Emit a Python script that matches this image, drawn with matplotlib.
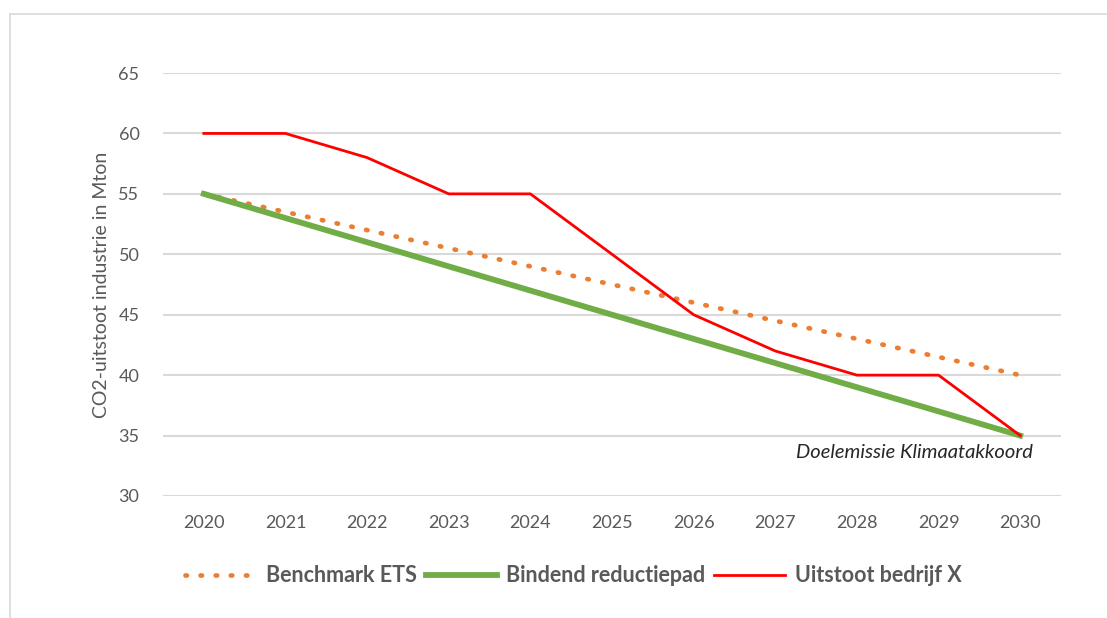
import matplotlib
matplotlib.use('Agg')
import matplotlib.pyplot as plt
from matplotlib.lines import Line2D

plt.rcParams['font.family'] = ['Lato', 'DejaVu Sans']

years = [2020, 2021, 2022, 2023, 2024, 2025, 2026, 2027, 2028, 2029, 2030]
benchmark_ets = [55, 53.5, 52, 50.5, 49, 47.5, 46, 44.5, 43, 41.5, 40]
bindend_pad = [55, 53, 51, 49, 47, 45, 43, 41, 39, 37, 35]
uitstoot_x = [60, 60, 58, 55, 55, 50, 45, 42, 40, 40, 35]
yticks = [30, 35, 40, 45, 50, 55, 60, 65]

grey = '#595959'
fig = plt.figure(figsize=(11.07, 6.18), dpi=100)

# outer frame (Excel chart area border)
fig.add_artist(Line2D([10/1107, 10/1107], [0, 1 - 14/618], color='#d9d9d9', lw=1.2))
fig.add_artist(Line2D([10/1107, 1], [1 - 14/618, 1 - 14/618], color='#d9d9d9', lw=1.2))

ax = fig.add_axes([163/1107, 1 - 496/618, (1061 - 163)/1107, (496 - 73)/618])
x = list(range(len(years)))

ax.plot(x, benchmark_ets, color='#ed7d31', lw=3.4, linestyle=(0, (0.3, 2.9)),
        dash_capstyle='round', label='Benchmark ETS', zorder=3)
ax.plot(x, bindend_pad, color='#70ad47', lw=4.2, label='Bindend reductiepad', zorder=4)
ax.plot(x, uitstoot_x, color='#ff0000', lw=2, label='Uitstoot bedrijf X', zorder=5)

ax.set_xlim(-0.5, len(years) - 0.5)
ax.set_ylim(30, 65)
ax.set_xticks(x)
ax.set_xticklabels([str(y) for y in years])
ax.set_yticks(yticks)
ax.grid(axis='y', color='#d9d9d9', lw=1.5)
ax.set_axisbelow(True)
for s in ax.spines.values():
    s.set_visible(False)
ax.tick_params(length=0, labelsize=13, colors=grey, pad=14)
ax.tick_params(axis='y', pad=17)
ax.set_ylabel('CO2-uitstoot industrie in Mton', fontsize=14, color=grey, labelpad=6)

ax.text(10.15, 34.3, 'Doelemissie Klimaatakkoord', ha='right', va='top',
        fontsize=14.5, style='italic', color='#262626')

leg = fig.legend(loc='center', bbox_to_anchor=(0.518, 1 - 576/618), ncol=3, frameon=False,
                 fontsize=15.5, handlelength=3.3, columnspacing=0.4, handletextpad=0.45)
for t in leg.get_texts():
    t.set_color(grey)
    t.set_fontweight('bold')

fig.savefig('out.png', dpi=100)
